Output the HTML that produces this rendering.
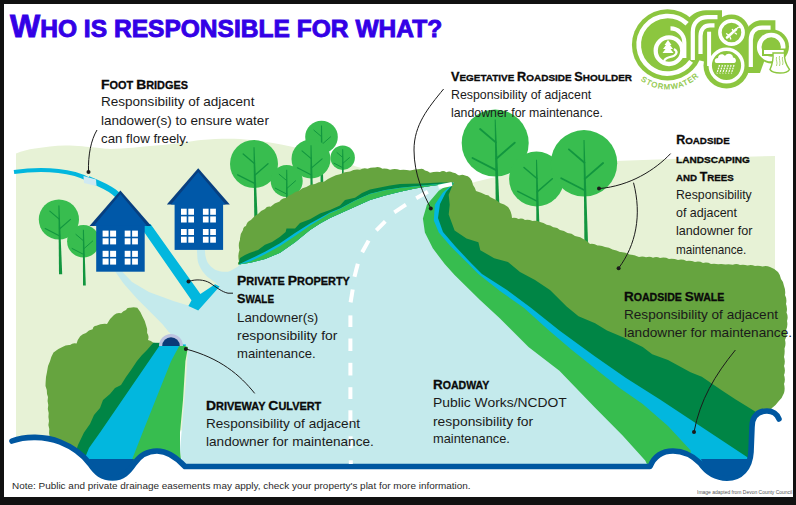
<!DOCTYPE html>
<html><head><meta charset="utf-8"><style>
html,body{margin:0;padding:0;background:#111;}
body{width:796px;height:505px;position:relative;overflow:hidden;font-family:"Liberation Sans",sans-serif;}
svg{position:absolute;left:0;top:0;}
.tl{position:absolute;white-space:nowrap;transform-origin:0 50%;}
</style></head><body>
<svg width="796" height="505" viewBox="0 0 796 505"><rect x="0" y="0" width="796" height="505" fill="#111111"/><rect x="4" y="4" width="789" height="493" fill="#fff"/><path fill="#e7f2d6" d="M16,153.6 C22,151 28,149.5 35,148.5 C45,147 55,145.5 65,145.5 C78,145.5 88,147 95,147.6 C102,148.3 106,149 110,149 C125,149 140,146.5 156,145.5 C175,144 190,141.5 201,140 C215,139 225,138.6 240,139 C270,141 300,148 330,156 L356,166.5 L380,173 L430,180 L430,330 L300,420 L16,445 Z"/><path fill="#e7f2d6" d="M468,184 C510,172 570,163 615,161 L700,158 L775,156 L775,300 L468,300 Z"/><circle cx="495.2" cy="143" r="33.5" fill="#38bd4f"/><path fill="#12963f" d="M494.7,119.5 L495.7,119.5 L499.3,203 L495.7,203 Z"/><line x1="495.8" y1="142.4" x2="480.1" y2="129.0" stroke="#12963f" stroke-width="1.84" stroke-linecap="round"/><line x1="496.3" y1="158.8" x2="514.7" y2="142.7" stroke="#12963f" stroke-width="1.84" stroke-linecap="round"/><line x1="496.6" y1="170.4" x2="472.5" y2="158.0" stroke="#12963f" stroke-width="1.84" stroke-linecap="round"/><circle cx="536.5" cy="179" r="27.4" fill="#38bd4f"/><path fill="#12963f" d="M536.0,159.8 L537.0,159.8 L539.6,230 L536.4,230 Z"/><line x1="536.9" y1="178.5" x2="524.0" y2="167.5" stroke="#12963f" stroke-width="1.51" stroke-linecap="round"/><line x1="537.2" y1="191.9" x2="552.3" y2="178.7" stroke="#12963f" stroke-width="1.51" stroke-linecap="round"/><line x1="537.4" y1="201.4" x2="517.7" y2="191.3" stroke="#12963f" stroke-width="1.51" stroke-linecap="round"/><circle cx="584" cy="163.3" r="33.2" fill="#38bd4f"/><path fill="#12963f" d="M583.5,140.1 L584.5,140.1 L588.0,243 L584.4,243 Z"/><line x1="584.5" y1="162.7" x2="568.9" y2="149.4" stroke="#12963f" stroke-width="1.83" stroke-linecap="round"/><line x1="584.8" y1="178.9" x2="603.1" y2="163.0" stroke="#12963f" stroke-width="1.83" stroke-linecap="round"/><line x1="585.1" y1="190.5" x2="561.2" y2="178.2" stroke="#12963f" stroke-width="1.83" stroke-linecap="round"/><path fill="#66a43f" d="M454.0,183.0 Q453.6,180.3 455.0,178.0 Q456.9,175.5 460.0,175.2 Q462.6,174.3 465.0,175.5 Q468.1,175.6 470.0,178.0 Q472.7,181.0 473.0,185.0 Q475.1,187.7 476.0,191.0 Q481.2,192.4 486.0,195.0 Q488.7,194.6 490.0,197.0 Q495.5,199.2 500.0,203.0 Q504.4,204.2 508.0,207.0 Q511.7,211.9 512.0,218.0 Q515.4,217.3 518.5,219.0 Q522.0,217.9 525.0,220.0 Q528.9,219.3 532.5,221.0 Q536.4,220.1 540.0,222.0 Q543.6,222.6 546.7,224.7 Q550.5,224.7 553.3,227.3 Q557.3,227.1 560.0,230.0 Q564.2,230.4 567.5,233.0 Q571.8,233.1 575.0,236.0 Q580.5,236.7 585.0,240.0 Q587.9,241.5 590.0,244.0 Q594.0,243.3 597.5,245.5 Q601.5,245.0 605.0,247.0 Q609.1,247.3 612.5,249.5 Q616.5,250.1 620.0,252.0 Q625.2,251.7 629.5,254.5 Q634.5,254.6 639.0,257.0 Q642.6,255.7 646.0,257.3 Q649.6,255.8 653.0,257.7 Q656.6,256.4 660.0,258.0 Q664.7,256.8 669.0,259.0 Q673.6,258.4 678.0,260.0 Q682.4,258.9 686.5,261.0 Q690.9,260.4 695.0,262.0 Q699.2,260.8 703.0,263.0 Q707.2,261.9 711.0,264.0 Q714.6,263.4 718.2,264.2 Q721.9,263.6 725.5,264.5 Q729.2,263.8 732.8,264.8 Q736.4,263.1 740.0,265.0 Q743.8,264.1 747.5,265.5 Q751.3,264.4 755.0,266.0 Q758.8,265.3 762.5,266.5 Q766.3,265.5 770.0,267.0 Q774.6,268.6 778.0,272.0 Q780.4,275.1 781.0,279.0 Q783.7,282.0 784.0,286.0 Q785.8,290.4 785.0,295.0 Q787.2,299.3 786.0,304.0 Q787.7,308.2 786.5,312.5 Q788.5,316.6 787.0,321.0 Q788.1,325.9 786.0,330.5 Q787.3,335.4 785.0,340.0 Q786.2,344.3 784.5,348.5 Q785.0,352.8 784.0,357.0 Q785.6,361.5 784.0,366.0 Q785.8,370.5 784.0,375.0 Q785.7,379.5 784.0,384.0 Q785.3,388.5 784.0,393.0 Q782.2,398.3 778.0,402.0 Q775.6,405.6 772.0,408.0 Q769.4,411.8 765.0,413.0 L765.0,475.0 L600.0,475.0 L420.0,300.0 L420.0,190.0 Z"/><path fill="#008545" d="M454,183 L452.6,184.9 L448.7,194.8 L449.7,204.7 L448.7,214.6 L454.6,230.4 L466.5,238.4 L478.4,242.3 L480.3,250.2 L494.2,258.2 L508,262 L520,272 L535,280 L550,290 L566.6,306.6 L578.5,316.2 L595.1,323.3 L607,330.4 L623.6,337.6 L642.7,347 L652.2,354.2 L668,360 L690.5,372.3 L701.8,376.8 L722,390.4 L735.7,399.4 L756,411.9 L765,413 L765,475 L600,475 L420,300 L420,190 Z"/><path fill="#02b7de" d="M454,183 L446,192 L440,204 L438,218 L443,232 L455,246 L470,262 L482,274 L507,290 L530.9,307.8 L559.4,330.4 L595.1,356.6 L626,378 L660,399.4 L747,457 L752,462 L700,470 L600,470 L420,300 L420,190 Z"/><path fill="#37bd4f" d="M454,183 L442.7,192.8 L434.8,204.7 L433.8,220.5 L438.8,232.4 L450.6,246.3 L466.5,262.1 L478.4,274 L500,291 L523.8,307.8 L547.6,329.2 L571.3,349.4 L595.1,368.5 L618.9,387.5 L642.7,404.1 L668,426 L690.5,450.3 L692,470 L600,470 L420,300 L420,190 Z"/><path fill="#c4eaec" d="M168,338 L176,322 L188,306 L198,310.6 L219.6,286.5 L212,279 L204,272 L208,274.5 L225,274 L239,266 L260,250 L300,222 L360,195 L410,182 L454,181 L438.8,190.8 L426.9,204.7 L422.9,218.6 L424.9,232.4 L432.8,248.3 L444.7,264.1 L454.6,275 L480,300 L500,318.5 L528.5,347 L559.4,370.8 L595.1,407.7 L622.6,435.6 L645.2,460.5 L650,470 L183,470 L180,450 L186,380 L188,347 Z"/><path fill="#c4eaec" d="M115.2,271.5 L122,271.5 L132,281.9 L148.9,292 L174.1,301.2 L190.9,306.3 L185,318 L172,334 L169,332.3 L162.3,323.9 L148.9,310.5 L137.1,298.7 L123.6,283.5 Z"/><path fill="#c4eaec" d="M196.9,249 L204.8,249 L205.3,254.9 C206,258.5 206.8,260.5 207.8,262.8 C209.5,265.5 211.5,267.3 213.7,268.7 C215.5,270 217.5,270.8 219.7,271.2 C222.5,271.8 225,271.9 227.6,271.7 C230,271.3 232.5,270.8 234.5,269.7 C236.5,268.5 238,267 240,264.5 L241,280 L215,282 C208,278 203,273 200.5,268 C198.5,264 197.5,261 197.4,258 Z"/><circle cx="321.5" cy="137" r="16.3" fill="#38bd4f"/><path fill="#12963f" d="M321.0,125.6 L322.0,125.6 L323.6,200 L320.4,200 Z"/><line x1="321.6" y1="136.7" x2="313.9" y2="130.2" stroke="#12963f" stroke-width="1.00" stroke-linecap="round"/><line x1="321.6" y1="144.7" x2="330.6" y2="136.8" stroke="#12963f" stroke-width="1.00" stroke-linecap="round"/><line x1="321.7" y1="150.3" x2="309.9" y2="144.3" stroke="#12963f" stroke-width="1.00" stroke-linecap="round"/><circle cx="342.7" cy="157.7" r="12.2" fill="#38bd4f"/><path fill="#12963f" d="M342.2,149.2 L343.2,149.2 L344.2,195 L341.8,195 Z"/><line x1="342.8" y1="157.5" x2="337.0" y2="152.6" stroke="#12963f" stroke-width="1.00" stroke-linecap="round"/><line x1="342.8" y1="163.4" x2="349.5" y2="157.6" stroke="#12963f" stroke-width="1.00" stroke-linecap="round"/><line x1="342.8" y1="167.7" x2="334.0" y2="163.2" stroke="#12963f" stroke-width="1.00" stroke-linecap="round"/><circle cx="254" cy="164" r="24" fill="#38bd4f"/><path fill="#12963f" d="M253.5,147.2 L254.5,147.2 L257.7,220 L254.3,220 Z"/><line x1="254.4" y1="163.6" x2="243.2" y2="154.0" stroke="#12963f" stroke-width="1.32" stroke-linecap="round"/><line x1="254.8" y1="175.3" x2="268.0" y2="163.8" stroke="#12963f" stroke-width="1.32" stroke-linecap="round"/><line x1="255.0" y1="183.7" x2="237.7" y2="174.8" stroke="#12963f" stroke-width="1.32" stroke-linecap="round"/><circle cx="311" cy="159" r="19.5" fill="#38bd4f"/><path fill="#12963f" d="M310.5,145.3 L311.5,145.3 L313.6,212 L310.4,212 Z"/><line x1="311.2" y1="158.6" x2="302.0" y2="150.8" stroke="#12963f" stroke-width="1.07" stroke-linecap="round"/><line x1="311.3" y1="168.2" x2="322.1" y2="158.8" stroke="#12963f" stroke-width="1.07" stroke-linecap="round"/><line x1="311.4" y1="175.0" x2="297.4" y2="167.8" stroke="#12963f" stroke-width="1.07" stroke-linecap="round"/><circle cx="286.7" cy="181" r="16" fill="#38bd4f"/><path fill="#12963f" d="M286.2,169.8 L287.2,169.8 L288.3,225 L285.7,225 Z"/><line x1="286.8" y1="180.7" x2="279.2" y2="174.3" stroke="#12963f" stroke-width="1.00" stroke-linecap="round"/><line x1="286.8" y1="188.5" x2="295.6" y2="180.8" stroke="#12963f" stroke-width="1.00" stroke-linecap="round"/><line x1="286.8" y1="194.1" x2="275.3" y2="188.2" stroke="#12963f" stroke-width="1.00" stroke-linecap="round"/><path fill="#66a43f" d="M238.5,264.6 Q237.2,262.8 239.0,261.6 Q237.5,255.7 239.5,250.0 Q237.9,244.8 240.0,239.8 Q239.6,234.3 243.0,229.9 Q243.1,226.9 246.0,226.0 Q246.9,221.7 250.9,220.0 Q254.0,216.4 258.0,214.0 Q260.7,210.4 265.0,209.0 Q267.0,206.0 270.6,206.7 Q274.3,202.7 279.6,201.4 Q281.7,197.9 285.8,197.9 Q288.5,195.3 292.0,194.3 Q295.0,191.3 299.1,190.7 Q302.2,187.9 306.3,187.0 Q310.2,184.1 315.0,184.0 Q319.1,181.4 324.0,181.8 Q327.6,178.8 332.0,177.0 Q335.7,174.7 340.0,174.3 Q344.7,171.8 350.0,171.5 Q354.7,168.7 360.0,169.8 Q363.5,167.5 367.5,168.7 Q371.1,167.2 375.0,167.5 Q379.0,166.3 382.5,168.7 Q386.4,168.3 390.0,169.8 Q395.0,168.3 400.0,170.0 Q405.1,169.4 410.0,170.6 Q414.9,169.1 420.0,169.0 Q423.1,168.0 425.0,170.6 Q427.9,170.8 430.0,172.8 Q434.9,171.4 440.0,172.0 Q443.2,170.1 446.3,172.2 Q449.5,170.5 452.6,172.5 Q455.8,172.7 458.0,175.0 Q460.7,175.4 460.0,178.0 L456.0,183.0 L454.6,182.6 L445.5,184.1 L430.5,186.0 L415.0,188.6 L400.0,191.7 L385.0,195.4 L370.0,200.0 L355.0,206.7 L340.0,213.5 L330.0,218.0 L320.0,223.5 L310.0,230.0 L295.0,242.3 L280.0,252.7 L265.0,259.1 L250.0,262.8 L238.5,264.6 Z"/><path fill="#008545" d="M238.5,264.6 L240,258 L245,255 L250,252.7 L258,250 L265,244.8 L272,242 L280,236.8 L285.6,232 L286.5,228.4 L295,228.4 L300,223.1 L310,219.2 L320,213.6 L330,210 L340,205.5 L345,200 L355,197.7 L362,193 L370,189.4 L380,187.5 L390,185.6 L400,184.1 L420,183.4 L440,182.6 L454.6,182.6 L454.6,182.6 L445.5,184.1 L430.5,186 L415,188.6 L400,191.7 L385,195.4 L370,200 L355,206.7 L340,213.5 L330,218 L320,223.5 L310,230 L295,242.3 L280,252.7 L265,259.1 L250,262.8 L238.5,264.6 Z"/><path fill="#02b7de" d="M238.5,264.6 L250,259.1 L265,251.7 L280,243.3 L295,232.9 L310,223.5 L320,218 L330,212.5 L340,208.5 L355,200.5 L370,193.7 L385,190 L400,187.7 L430,184.7 L454.6,182.6 L454.6,182.6 L445.5,184.1 L430.5,186 L415,188.6 L400,191.7 L385,195.4 L370,200 L355,206.7 L340,213.5 L330,218 L320,223.5 L310,230 L295,242.3 L280,252.7 L265,259.1 L250,262.8 L238.5,264.6 Z"/><path fill="#37bd4f" d="M238.5,264.6 L250,261.6 L265,254.2 L280,246 L295,235.9 L310,225.5 L320,219.5 L330,213.3 L340,209 L355,200.7 L370,193.9 L385,190.2 L400,187.9 L430,184.9 L454.6,182.6 L454.6,182.6 L445.5,184.1 L430.5,186 L415,188.6 L400,191.7 L385,195.4 L370,200 L355,206.7 L340,213.5 L330,218 L320,223.5 L310,230 L295,242.3 L280,252.7 L265,259.1 L250,262.8 L238.5,264.6 Z"/><path fill="#66a43f" d="M50.0,445.0 Q48.7,441.0 49.7,437.0 Q48.6,433.0 49.3,429.0 Q47.6,425.1 49.0,421.0 Q48.0,417.0 48.7,413.0 Q47.1,409.1 48.3,405.0 Q47.0,401.1 48.0,397.0 Q46.6,393.6 46.8,389.9 Q44.8,386.5 45.6,382.7 Q45.6,377.3 47.0,372.0 Q47.2,366.3 50.0,361.3 Q51.0,356.6 53.5,352.4 Q57.5,349.0 62.4,347.0 Q65.9,344.7 70.0,345.0 Q72.9,342.4 76.6,343.5 Q77.6,339.5 80.2,336.3 Q82.6,333.8 86.0,333.0 Q88.6,329.7 92.7,329.2 Q93.1,326.0 96.3,325.7 Q101.4,323.3 107.0,323.9 Q109.5,318.7 114.0,315.0 Q117.1,312.1 121.2,313.2 Q123.2,311.0 126.0,310.0 Q127.1,307.2 130.0,307.8 Q133.7,306.7 137.3,307.8 Q140.7,311.8 142.6,316.7 Q145.2,320.9 146.2,325.7 Q147.8,329.1 147.1,332.9 Q149.4,336.2 148.0,340.0 Q151.1,340.6 153.3,342.8 L163.0,344.0 L120.0,420.0 L95.0,470.0 L45.0,470.0 Z"/><path fill="#008545" d="M153.3,342.8 L170,343 L115,432.6 L100,470 L70,470 L78,445 L84,432.6 L90,424 L94,415 L100,408 L103,400 L110,394 L115,388 L121,385 L126,377 L131,370 L137,361 L142,355 L147,350 Z"/><path fill="#02b7de" d="M161,343.5 L186,344.5 L160,432.6 L150,470 L80,470 L89,448 L100,432.6 Z"/><path fill="#37bd4f" d="M180,344.5 L188,347 L185.4,361.3 L183,400 L180,432.6 L180,450 L182,470 L128,470 L142.6,432.6 L171,361.3 Z"/><path fill="#bcc3e0" d="M159,346 A12,12 0 0 1 183,346 Z"/><path fill="#0b3a78" d="M162.2,346 A8.8,8.8 0 0 1 179.8,346 Z"/><path fill="#fff" d="M12,441 C25,436 45,436 60,442 C75,448 84,456 90,464 C96,473 102,478 112.5,478 C123,478 128.5,472 134,464 C140,455 148,451 157,451 C168,451 177,458 185,466.5 L650,466.5 C654,457 662,451 673,451 C684,451 693,456 700,463 C707,473 716,478.2 727,478.2 C741,478.2 750,468 751,452 L752,427 C752,416 758,411 767,411 C773,411 777,414 779,419 L793,419 L793,497 L4,497 L4,441 Z"/><path fill="#0057a0" d="M89,459 L134,459 C130,471 123,478 112.5,478 C102,478 94,470 89,459 Z"/><path fill="#0057a0" d="M701,459 L751,459 C749,471 740,478.2 727,478.2 C715,478.2 705,470 701,459 Z"/><path fill="none" stroke="#0057a0" stroke-width="5.6" stroke-linecap="round" stroke-linejoin="round" d="M12,441 C25,436 45,436 60,442 C75,448 84,456 90,464 C96,473 102,478 112.5,478 C123,478 128.5,472 134,464 C140,455 148,451 157,451 C168,451 177,458 185,466.5 L650,466.5 C654,457 662,451 673,451 C684,451 693,456 700,463 C707,473 716,478.2 727,478.2 C741,478.2 750,468 751,452 L752,427 C752,416 758,411 767,411 C773,411 777,414 779,419"/><path fill="none" stroke="#02b7de" stroke-width="4" d="M14,172 C35,169 55,169 75,174 C82,176 86,178 90,180"/><path fill="none" stroke="#02b7de" stroke-width="6" d="M88,179 C98,183 106,186 114,192 C122,198 128,206 134,214 L144,226"/><path fill="#02b7de" d="M138.5,224 L150.5,224 L200.4,294.1 L215.1,284.3 L219.6,286.5 L198.2,310.6 L188.4,306.1 L191.5,300.3 Z"/><path fill="#cfe9f2" d="M83.5,176 L96,179.5 L96.5,186 L84,183 Z"/><circle cx="58.9" cy="219.5" r="20.1" fill="#38bd4f"/><path fill="#12963f" d="M58.4,205.4 L59.4,205.4 L62.2,274.2 L59.0,274.2 Z"/><line x1="59.2" y1="219.1" x2="49.8" y2="211.1" stroke="#12963f" stroke-width="1.11" stroke-linecap="round"/><line x1="59.5" y1="229.0" x2="70.5" y2="219.3" stroke="#12963f" stroke-width="1.11" stroke-linecap="round"/><line x1="59.7" y1="236.0" x2="45.2" y2="228.5" stroke="#12963f" stroke-width="1.11" stroke-linecap="round"/><circle cx="83.4" cy="241.2" r="16.3" fill="#38bd4f"/><path fill="#12963f" d="M82.9,229.8 L83.9,229.8 L85.8,285.4 L83.0,285.4 Z"/><line x1="83.6" y1="240.9" x2="75.9" y2="234.4" stroke="#12963f" stroke-width="1.00" stroke-linecap="round"/><line x1="83.7" y1="248.9" x2="92.7" y2="241.0" stroke="#12963f" stroke-width="1.00" stroke-linecap="round"/><line x1="83.8" y1="254.5" x2="72.1" y2="248.5" stroke="#12963f" stroke-width="1.00" stroke-linecap="round"/><path fill="#073f80" d="M120.4,190.4 L151.3,226.1 L89.5,226.1 Z"/><path fill="#0058a8" d="M120.4,194.0 L147.10000000000002,226.1 L93.7,226.1 Z"/><rect x="96.2" y="225.6" width="48.499999999999986" height="46.099999999999994" fill="#0058a8"/><rect x="102.6" y="230.6" width="6.0" height="6.1" fill="#fff"/><rect x="102.6" y="238.3" width="6.0" height="6.1" fill="#fff"/><rect x="110.1" y="230.6" width="6.0" height="6.1" fill="#fff"/><rect x="110.1" y="238.3" width="6.0" height="6.1" fill="#fff"/><rect x="124.7" y="230.6" width="5.8" height="6.1" fill="#fff"/><rect x="124.7" y="238.3" width="5.8" height="6.1" fill="#fff"/><rect x="132.1" y="230.6" width="5.8" height="6.1" fill="#fff"/><rect x="132.1" y="238.3" width="5.8" height="6.1" fill="#fff"/><rect x="102.6" y="250.8" width="6.0" height="6.1" fill="#fff"/><rect x="102.6" y="258.5" width="6.0" height="6.1" fill="#fff"/><rect x="110.1" y="250.8" width="6.0" height="6.1" fill="#fff"/><rect x="110.1" y="258.5" width="6.0" height="6.1" fill="#fff"/><rect x="124.7" y="250.8" width="5.8" height="6.1" fill="#fff"/><rect x="124.7" y="258.5" width="5.8" height="6.1" fill="#fff"/><rect x="132.1" y="250.8" width="5.8" height="6.1" fill="#fff"/><rect x="132.1" y="258.5" width="5.8" height="6.1" fill="#fff"/><path fill="#073f80" d="M198.2,168.3 L229.8,204.5 L166.8,204.5 Z"/><path fill="#0058a8" d="M198.2,171.9 L225.60000000000002,204.5 L171.0,204.5 Z"/><rect x="174.6" y="204.0" width="48.5" height="45.900000000000006" fill="#0058a8"/><rect x="181.0" y="208.7" width="5.7" height="6.1" fill="#fff"/><rect x="181.0" y="216.4" width="5.7" height="6.1" fill="#fff"/><rect x="188.3" y="208.7" width="5.7" height="6.1" fill="#fff"/><rect x="188.3" y="216.4" width="5.7" height="6.1" fill="#fff"/><rect x="202.9" y="208.7" width="5.7" height="6.1" fill="#fff"/><rect x="202.9" y="216.4" width="5.7" height="6.1" fill="#fff"/><rect x="210.2" y="208.7" width="5.7" height="6.1" fill="#fff"/><rect x="210.2" y="216.4" width="5.7" height="6.1" fill="#fff"/><rect x="181.0" y="229.0" width="5.7" height="6.0" fill="#fff"/><rect x="181.0" y="236.7" width="5.7" height="6.0" fill="#fff"/><rect x="188.3" y="229.0" width="5.7" height="6.0" fill="#fff"/><rect x="188.3" y="236.7" width="5.7" height="6.0" fill="#fff"/><rect x="202.9" y="229.0" width="5.7" height="6.0" fill="#fff"/><rect x="202.9" y="236.7" width="5.7" height="6.0" fill="#fff"/><rect x="210.2" y="229.0" width="5.7" height="6.0" fill="#fff"/><rect x="210.2" y="236.7" width="5.7" height="6.0" fill="#fff"/><line x1="438.5" y1="186.8" x2="452" y2="184" stroke="#fff" stroke-width="4"/><line x1="416.2" y1="198.2" x2="427.8" y2="191.7" stroke="#fff" stroke-width="4"/><line x1="394.3" y1="212.3" x2="405.9" y2="204.6" stroke="#fff" stroke-width="4"/><line x1="376.3" y1="230.3" x2="385.3" y2="221.3" stroke="#fff" stroke-width="4"/><line x1="362.2" y1="252.2" x2="368.6" y2="240.6" stroke="#fff" stroke-width="4"/><line x1="354.5" y1="276.7" x2="357.8" y2="263.8" stroke="#fff" stroke-width="4"/><line x1="350.6" y1="302.4" x2="352.7" y2="289.5" stroke="#fff" stroke-width="4"/><line x1="350.4" y1="327" x2="350.4" y2="315.4" stroke="#fff" stroke-width="4"/><line x1="350.4" y1="351" x2="350.4" y2="338.5" stroke="#fff" stroke-width="4"/><line x1="350.4" y1="375.5" x2="350.4" y2="362.8" stroke="#fff" stroke-width="4"/><line x1="350.4" y1="399" x2="350.4" y2="387.2" stroke="#fff" stroke-width="4"/><line x1="350.4" y1="423" x2="350.4" y2="410.3" stroke="#fff" stroke-width="4"/><line x1="350.6" y1="448.3" x2="350.6" y2="436.3" stroke="#fff" stroke-width="4"/><line x1="350.8" y1="464" x2="350.8" y2="460.3" stroke="#fff" stroke-width="4"/><path fill="none" stroke="#1b1b1b" stroke-width="1" d="M97,130 C91,140 88,155 88.5,172"/><circle cx="88.5" cy="172" r="2" fill="#1b1b1b"/><path fill="none" stroke="#1b1b1b" stroke-width="1" d="M443.6,89 C428,108 414,125 414,150 C414,175 424,195 430.8,208.4"/><circle cx="430.8" cy="208.4" r="2" fill="#1b1b1b"/><path fill="none" stroke="#1b1b1b" stroke-width="1" d="M599,188.6 C630,186 655,170 670.6,153.6"/><circle cx="599" cy="188.6" r="2" fill="#1b1b1b"/><path fill="none" stroke="#1b1b1b" stroke-width="1" d="M633.5,182.7 C642,215 636,245 618.6,268.2"/><circle cx="618.6" cy="268.2" r="2" fill="#1b1b1b"/><path fill="none" stroke="#1b1b1b" stroke-width="1" d="M735.4,350 C715,375 700,400 694,432"/><circle cx="694" cy="432" r="2" fill="#1b1b1b"/><path fill="none" stroke="#1b1b1b" stroke-width="1" d="M188.5,281.4 C196,279 204,279.5 210,283 C216,287 222,292 228,293.2 L233,293.2"/><circle cx="188.5" cy="281.4" r="2" fill="#1b1b1b"/><path fill="none" stroke="#1b1b1b" stroke-width="1" d="M185.8,349 C220,358 240,375 254.7,393.4"/><circle cx="185.8" cy="349" r="2" fill="#1b1b1b"/><g><circle cx="667.5" cy="44.8" r="35.6" fill="#8cc63f"/><path fill="#8cc63f" d="M684,24 C690,15 697,10.3 706,10.3 L722,10.3 L722,18 L740,18 L740,62 L706,62 L698,60 L690,64 L684,60 Z"/><circle cx="731.5" cy="32.5" r="18" fill="#8cc63f"/><circle cx="726.5" cy="65.5" r="23" fill="#8cc63f"/><path fill="#8cc63f" d="M740,35 L748,27 C752,23 756,20.3 762,20.3 L775.4,20.3 L775.4,30 L760,73 L740,73 Z"/><circle cx="772" cy="46.5" r="17" fill="#8cc63f"/><path fill="#8cc63f" d="M745,60 L760,60 L760,73 L745,73 Z"/><path fill="none" stroke="#fff" stroke-width="4.7" d="M687.1,23.7 A28.8,28.8 0 1 0 691.1,61.3"/><circle cx="669" cy="50.7" r="13.3" fill="none" stroke="#fff" stroke-width="4.3"/><path fill="none" stroke="#fff" stroke-width="4.2" d="M670.5,28.4 A13.8,13.8 0 0 1 684.3,42.2 L684.3,58"/><path fill="#fff" d="M668,40 L671.5,45 L670,45 L673,49 L670.5,49 L673.5,53 L662.5,53 L665.5,49 L663,49 L666,45 L664.5,45 Z"/><path fill="none" stroke="#fff" stroke-width="2.2" d="M674,49 C679,52 676,56 670,57 C666,58 664,60 664,62"/><path fill="none" stroke="#fff" stroke-width="4.2" d="M692.8,60 L692.8,32 C692.8,22.5 699,17.2 708,17.2 L717.5,17.2"/><path fill="none" stroke="#fff" stroke-width="4.2" d="M700.5,54 L700.5,36 C700.5,29 704.5,25.4 710,25.4 L714.5,25.4"/><path fill="none" stroke="#fff" stroke-width="4" d="M709.1,31.7 L709.1,66"/><circle cx="726.5" cy="65.5" r="16.3" fill="none" stroke="#fff" stroke-width="3.4"/><path fill="#fff" d="M716.5,63 C714,63 714,58 718,58 C718,54 723,53 725,56 C727,52.5 733,53.5 733,57.5 C736.5,57.5 737,63 734,63 Z"/><line x1="719.5" y1="65" x2="716.9" y2="73.5" stroke="#fff" stroke-width="1.2" stroke-dasharray="1.8 0.9"/><line x1="722.4" y1="65" x2="719.8" y2="73.5" stroke="#fff" stroke-width="1.2" stroke-dasharray="1.8 0.9"/><line x1="725.3" y1="65" x2="722.7" y2="73.5" stroke="#fff" stroke-width="1.2" stroke-dasharray="1.8 0.9"/><line x1="728.2" y1="65" x2="725.6" y2="73.5" stroke="#fff" stroke-width="1.2" stroke-dasharray="1.8 0.9"/><line x1="731.1" y1="65" x2="728.5" y2="73.5" stroke="#fff" stroke-width="1.2" stroke-dasharray="1.8 0.9"/><line x1="734.0" y1="65" x2="731.4" y2="73.5" stroke="#fff" stroke-width="1.2" stroke-dasharray="1.8 0.9"/><circle cx="731.5" cy="32.5" r="11.6" fill="none" stroke="#fff" stroke-width="3.6"/><path fill="none" stroke="#fff" stroke-width="2.6" stroke-linecap="round" d="M727,37.5 C730,35 733,32 736,29.5"/><path fill="none" stroke="#fff" stroke-width="1.3" stroke-linecap="round" d="M736,29.5 C737.5,27.5 739,26.5 740,27.5 M728.5,35 L726.5,33.8 M730,37 L730.8,39 M733.5,31 L732.3,29.5 M735,33 L736.5,34"/><path fill="none" stroke="#fff" stroke-width="4.2" d="M750.8,67 L750.8,40 C750.8,32 755,27.7 762,27.7 L770.6,27.7"/><circle cx="771.2" cy="47" r="12" fill="none" stroke="#fff" stroke-width="4.6"/><path fill="#8cc63f" d="M762,48.5 L786,48.5 L786,56 L762,56 Z"/><path fill="#fff" d="M764,50 L783.7,50 L783.7,54 L764,54 Z"/><path fill="#fff" stroke="#8cc63f" stroke-width="1.4" d="M773,53 L784.5,53 C784,59 785.5,64 789.5,69.5 C788,72.5 785,73 780,73 C776,73 772,72.5 770,69.5 C772.5,64 773.5,59 773,53 Z"/><path fill="none" stroke="#8cc63f" stroke-width="0.7" d="M776.5,57 C775.5,60 778,62 776.5,66 M779.5,56 C778.5,59 781,62 779.5,66 M782.5,57 C781.5,60 784,62 782.5,65"/><defs><path id="arcS" d="M640.72,80.34 A44.5,44.5 0 0 0 697.85,77.35"/></defs><text font-family="Liberation Sans" font-size="7.6" fill="#8cc63f" stroke="#8cc63f" stroke-width="0.25"><textPath href="#arcS" textLength="63" lengthAdjust="spacing">STORMWATER</textPath></text></g></svg>
<div id="t1h" class="tl" style="left:100.5px;top:77.28px;font-size:13.4px;line-height:16.75px;font-weight:bold;color:#0a0a0a;-webkit-text-stroke:0.3px #0a0a0a;transform:scaleX(1.0382);"><span style="font-size:13.4px">F</span><span style="font-size:10.5px">OOT</span><span style="font-size:10.5px"> </span><span style="font-size:13.4px">B</span><span style="font-size:10.5px">RIDGES</span></div><div id="t1a" class="tl" style="left:101.3px;top:94.18px;font-size:13.3px;line-height:16.62px;color:#1a1a1a;transform:scaleX(1.0173);">Responsibility of adjacent</div><div id="t1b" class="tl" style="left:101.3px;top:113.08px;font-size:13.3px;line-height:16.62px;color:#1a1a1a;transform:scaleX(1.0187);">landower(s) to ensure water</div><div id="t1c" class="tl" style="left:101.3px;top:130.78px;font-size:13.3px;line-height:16.62px;color:#1a1a1a;transform:scaleX(0.9988);">can flow freely.</div><div id="t2h" class="tl" style="left:450.5px;top:70.00px;font-size:12.46px;line-height:15.58px;font-weight:bold;color:#0a0a0a;-webkit-text-stroke:0.3px #0a0a0a;transform:scaleX(1.0182);"><span style="font-size:12.46px">V</span><span style="font-size:9.77px">EGETATIVE</span><span style="font-size:9.77px"> </span><span style="font-size:12.46px">R</span><span style="font-size:9.77px">OADSIDE</span><span style="font-size:9.77px"> </span><span style="font-size:12.46px">S</span><span style="font-size:9.77px">HOULDER</span></div><div id="t2a" class="tl" style="left:450.7px;top:87.88px;font-size:12.37px;line-height:15.46px;color:#1a1a1a;transform:scaleX(1.0003);">Responsibility of adjacent</div><div id="t2b" class="tl" style="left:450.7px;top:105.98px;font-size:12.37px;line-height:15.46px;color:#1a1a1a;transform:scaleX(0.9965);">landowner for maintenance.</div><div id="t3h1" class="tl" style="left:676.2px;top:132.90px;font-size:12.46px;line-height:15.58px;font-weight:bold;color:#0a0a0a;-webkit-text-stroke:0.3px #0a0a0a;transform:scaleX(1.0000);"><span style="font-size:12.46px">R</span><span style="font-size:9.77px">OADSIDE</span></div><div id="t3h2" class="tl" style="left:676.2px;top:151.80px;font-size:12.46px;line-height:15.58px;font-weight:bold;color:#0a0a0a;-webkit-text-stroke:0.3px #0a0a0a;transform:scaleX(1.0304);"><span style="font-size:9.77px">LANDSCAPING</span></div><div id="t3h3" class="tl" style="left:676.2px;top:170.00px;font-size:12.46px;line-height:15.58px;font-weight:bold;color:#0a0a0a;-webkit-text-stroke:0.3px #0a0a0a;transform:scaleX(0.9949);"><span style="font-size:9.77px">AND</span><span style="font-size:9.77px"> </span><span style="font-size:12.46px">T</span><span style="font-size:9.77px">REES</span></div><div id="t3a" class="tl" style="left:676.2px;top:188.18px;font-size:12.37px;line-height:15.46px;color:#1a1a1a;transform:scaleX(0.9926);">Responsibility</div><div id="t3b" class="tl" style="left:676.2px;top:206.08px;font-size:12.37px;line-height:15.46px;color:#1a1a1a;transform:scaleX(1.0085);">of adjacent</div><div id="t3c" class="tl" style="left:676.2px;top:224.28px;font-size:12.37px;line-height:15.46px;color:#1a1a1a;transform:scaleX(1.0215);">landowner for</div><div id="t3d" class="tl" style="left:676.2px;top:242.78px;font-size:12.37px;line-height:15.46px;color:#1a1a1a;transform:scaleX(0.9472);">maintenance.</div><div id="t4h1" class="tl" style="left:236.5px;top:273.28px;font-size:13.4px;line-height:16.75px;font-weight:bold;color:#0a0a0a;-webkit-text-stroke:0.3px #0a0a0a;transform:scaleX(1.0404);"><span style="font-size:13.4px">P</span><span style="font-size:10.5px">RIVATE</span><span style="font-size:10.5px"> </span><span style="font-size:13.4px">P</span><span style="font-size:10.5px">ROPERTY</span></div><div id="t4h2" class="tl" style="left:236.5px;top:291.08px;font-size:13.4px;line-height:16.75px;font-weight:bold;color:#0a0a0a;-webkit-text-stroke:0.3px #0a0a0a;transform:scaleX(0.9419);"><span style="font-size:13.4px">S</span><span style="font-size:10.5px">WALE</span></div><div id="t4a" class="tl" style="left:236.5px;top:309.98px;font-size:13.3px;line-height:16.62px;color:#1a1a1a;transform:scaleX(0.9986);">Landowner(s)</div><div id="t4b" class="tl" style="left:236.5px;top:327.88px;font-size:13.3px;line-height:16.62px;color:#1a1a1a;transform:scaleX(1.0450);">responsibility for</div><div id="t4c" class="tl" style="left:236.5px;top:345.68px;font-size:13.3px;line-height:16.62px;color:#1a1a1a;transform:scaleX(0.9844);">maintenance.</div><div id="t5h" class="tl" style="left:205.7px;top:398.48px;font-size:13.4px;line-height:16.75px;font-weight:bold;color:#0a0a0a;-webkit-text-stroke:0.3px #0a0a0a;transform:scaleX(1.0408);"><span style="font-size:13.4px">D</span><span style="font-size:10.5px">RIVEWAY</span><span style="font-size:10.5px"> </span><span style="font-size:13.4px">C</span><span style="font-size:10.5px">ULVERT</span></div><div id="t5a" class="tl" style="left:205.7px;top:416.38px;font-size:13.3px;line-height:16.62px;color:#1a1a1a;transform:scaleX(1.0212);">Responsibility of adjacent</div><div id="t5b" class="tl" style="left:205.7px;top:433.78px;font-size:13.3px;line-height:16.62px;color:#1a1a1a;transform:scaleX(1.0225);">landowner for maintenance.</div><div id="t6h" class="tl" style="left:432.5px;top:376.98px;font-size:13.4px;line-height:16.75px;font-weight:bold;color:#0a0a0a;-webkit-text-stroke:0.3px #0a0a0a;transform:scaleX(1.0041);"><span style="font-size:13.4px">R</span><span style="font-size:10.5px">OADWAY</span></div><div id="t6a" class="tl" style="left:432.5px;top:395.18px;font-size:13.3px;line-height:16.62px;color:#1a1a1a;transform:scaleX(1.0428);">Public Works/NCDOT</div><div id="t6b" class="tl" style="left:432.5px;top:414.48px;font-size:13.3px;line-height:16.62px;color:#1a1a1a;transform:scaleX(1.0419);">responsibility for</div><div id="t6c" class="tl" style="left:432.5px;top:431.38px;font-size:13.3px;line-height:16.62px;color:#1a1a1a;transform:scaleX(0.9631);">maintenance.</div><div id="t7h" class="tl" style="left:623.5px;top:289.28px;font-size:13.4px;line-height:16.75px;font-weight:bold;color:#0a0a0a;-webkit-text-stroke:0.3px #0a0a0a;transform:scaleX(1.0058);"><span style="font-size:13.4px">R</span><span style="font-size:10.5px">OADSIDE</span><span style="font-size:10.5px"> </span><span style="font-size:13.4px">S</span><span style="font-size:10.5px">WALE</span></div><div id="t7a" class="tl" style="left:623.5px;top:307.28px;font-size:13.3px;line-height:16.62px;color:#1a1a1a;transform:scaleX(1.0212);">Responsibility of adjacent</div><div id="t7b" class="tl" style="left:623.5px;top:325.18px;font-size:13.3px;line-height:16.62px;color:#1a1a1a;transform:scaleX(1.0237);">landowner for maintenance.</div><div id="note" class="tl" style="left:11.7px;top:480.27px;font-size:9.4px;line-height:11.75px;color:#2a2a2a;transform:scaleX(1.0602);">Note: Public and private drainage easements may apply, check your property's plat for more information.</div><div id="cred" class="tl" style="left:696.5px;top:489.26px;font-size:5.6px;line-height:7.00px;color:#555;transform:scaleX(0.8883);">Image adapted from Devon County Council</div><div id="title" class="tl" style="left:9.8px;top:8.56px;font-size:31px;line-height:36px;font-weight:bold;color:#3300e6;-webkit-text-stroke:0.9px #3300e6;transform:scaleX(1.0317);"><span style="font-size:31px">W</span><span style="font-size:23.8px">HO</span><span style="font-size:23.8px"> </span><span style="font-size:23.8px">IS</span><span style="font-size:23.8px"> </span><span style="font-size:23.8px">RESPONSIBLE</span><span style="font-size:23.8px"> </span><span style="font-size:23.8px">FOR</span><span style="font-size:23.8px"> </span><span style="font-size:23.8px">WHAT?</span></div>
</body></html>
